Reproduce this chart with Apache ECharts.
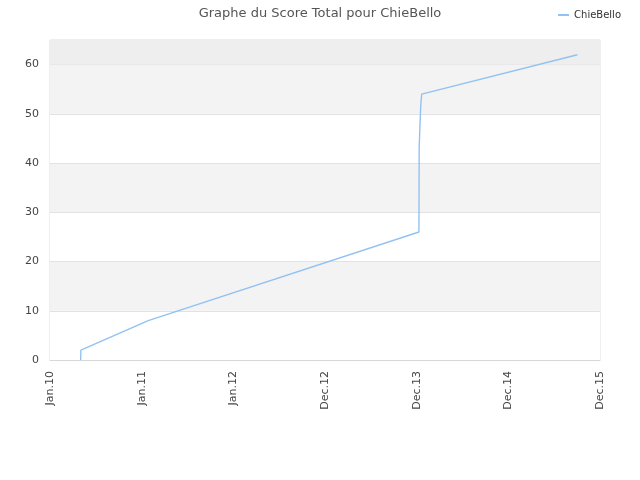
<!DOCTYPE html>
<html>
<head>
<meta charset="utf-8">
<script src="https://cdn.jsdelivr.net/npm/echarts@6/dist/echarts.min.js"></script>
<style>html,body{margin:0;padding:0;background:#fff}#c{width:640px;height:480px}</style>
</head>
<body>
<div id="c"></div>
<script>
var seriesName = 'ChieBello';
var titleText = 'Graphe du Score Total pour ChieBello';
var dates = ['2010-05-03','2010-05-04','2011-01-27','2014-01-09','2014-01-10','2014-01-13','2014-01-16','2014-01-20','2015-10-02'];
var scores = [0, 2, 8, 26, 43, 47.4, 51.5, 54, 62];
var xStart = '2010-01-01';
var xStepDays = 365;
var xSteps = 6;
var months = ['Jan','Feb','Mar','Apr','May','Jun','Jul','Aug','Sep','Oct','Nov','Dec'];

var DAY = 86400000;
var t0 = Date.parse(xStart + 'T00:00:00Z');
function toDays(s){ return (Date.parse(s + 'T00:00:00Z') - t0) / DAY; }
var data = dates.map(function(d, i){ return [toDays(d), scores[i]]; });

var chart = echarts.init(document.getElementById('c'));
chart.setOption({
  animation: false,
  backgroundColor: '#ffffff',
  title: {
    text: titleText, left: 'center', top: 2,
    textStyle: { fontFamily: 'DejaVu Sans', fontSize: 13, fontWeight: 'normal', color: '#555555' }
  },
  legend: {
    data: [seriesName], right: 14, top: 5,
    itemWidth: 11, itemHeight: 2, itemGap: 5,
    icon: 'rect',
    textStyle: { fontFamily: 'DejaVu Sans', fontSize: 10, color: '#333333' }
  },
  grid: { left: 50, right: 40, top: 40, bottom: 120, show: true, borderColor: '#dddddd', borderWidth: 1, backgroundColor: 'transparent' },
  xAxis: {
    type: 'value', min: 0, max: xStepDays * xSteps, interval: xStepDays,
    axisLine: { show: true, lineStyle: { color: '#d8d8d8' } },
    axisTick: { show: false },
    splitLine: { show: false },
    axisLabel: {
      rotate: 90, margin: 11, color: '#444444',
      fontFamily: 'DejaVu Sans', fontSize: 11,
      formatter: function(v){
        var d = new Date(t0 + v * DAY);
        return months[d.getUTCMonth()] + '.' + String(d.getUTCFullYear()).slice(2);
      }
    }
  },
  yAxis: {
    type: 'value', min: 0, max: 65, interval: 10,
    axisLine: { show: false },
    axisTick: { show: false },
    axisLabel: { margin: 11, color: '#444444', fontFamily: 'DejaVu Sans', fontSize: 11, showMaxLabel: false },
    splitLine: { show: true, lineStyle: { color: '#e2e2e2' } },
    splitArea: { show: true, areaStyle: { color: ['#ffffff', '#f3f3f3'] } }
  },
  series: [{
    name: seriesName, type: 'line', data: data,
    showSymbol: false, symbol: 'none',
    lineStyle: { color: '#92c2f2', width: 1.4 },
    itemStyle: { color: '#92c2f2' },
    markArea: {
      silent: true,
      itemStyle: { color: '#eeeeee' },
      data: [[{ yAxis: 60 }, { yAxis: 65 }]]
    }
  }]
});
</script>
</body>
</html>
